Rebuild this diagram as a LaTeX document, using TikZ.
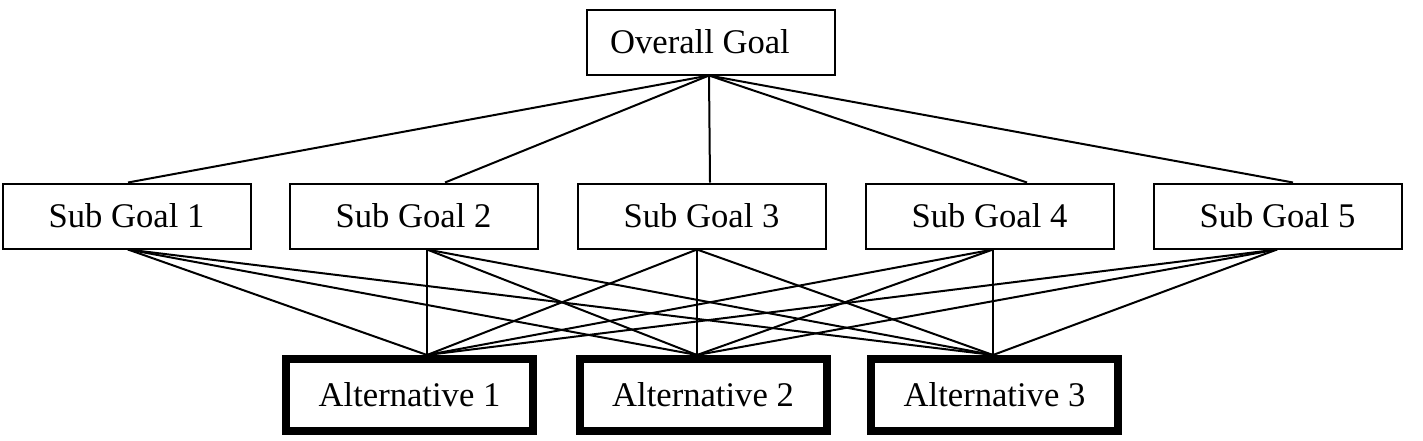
\documentclass[tikz,border=0pt]{standalone}
\usepackage{fontspec}
\setmainfont{Liberation Serif}
\begin{document}
\begin{tikzpicture}[x=0.5pt,y=-0.5pt,
  box/.style={draw, line width=1pt, minimum width=124pt, minimum height=32.5pt, inner sep=0pt, font=\fontsize{17.3}{20}\selectfont},
  altbox/.style={box, line width=4pt, minimum width=123.5pt, minimum height=36pt},
  link/.style={line width=1pt}]
\useasboundingbox (0,0) rectangle (1423,440);
% nodes
\node[box] (goal) at (711,42) {Overall Goal\kern11pt};
\node[box] (sg1) at (126.5,216) {Sub Goal 1};
\node[box] (sg2) at (413.5,216) {Sub Goal 2};
\node[box] (sg3) at (701.5,216) {Sub Goal 3};
\node[box] (sg4) at (989.5,216) {Sub Goal 4};
\node[box] (sg5) at (1277.5,216) {Sub Goal 5};
\node[altbox] (a1) at (409.5,395) {Alternative 1};
\node[altbox] (a2) at (703,395) {Alternative 2};
\node[altbox] (a3) at (994.5,395) {Alternative 3};
% connection points
\coordinate (gb) at ([xshift=-1pt]goal.south);
\coordinate (t1) at ([xshift=0.75pt]sg1.north);
\coordinate (t2) at ([xshift=15.75pt]sg2.north);
\coordinate (t3) at ([xshift=4.25pt]sg3.north);
\coordinate (t4) at ([xshift=18.75pt]sg4.north);
\coordinate (t5) at ([xshift=7.75pt]sg5.north);
\coordinate (b1) at ([xshift=0.75pt]sg1.south);
\coordinate (b2) at ([xshift=6.75pt]sg2.south);
\coordinate (b3) at ([xshift=-2.25pt]sg3.south);
\coordinate (b4) at ([xshift=1.75pt]sg4.south);
\coordinate (b5) at ([xshift=-0.25pt]sg5.south);
\coordinate (n1) at ([xshift=8.75pt]a1.north);
\coordinate (n2) at ([xshift=-3pt]a2.north);
\coordinate (n3) at ([xshift=-0.75pt]a3.north);
% connectors
\foreach \t in {t1,t2,t3,t4,t5} \draw[link] (gb) -- (\t);
\foreach \b in {b1,b2,b3,b4,b5}
  \foreach \n in {n1,n2,n3}
    \draw[link] (\b) -- (\n);
\end{tikzpicture}
\end{document}
